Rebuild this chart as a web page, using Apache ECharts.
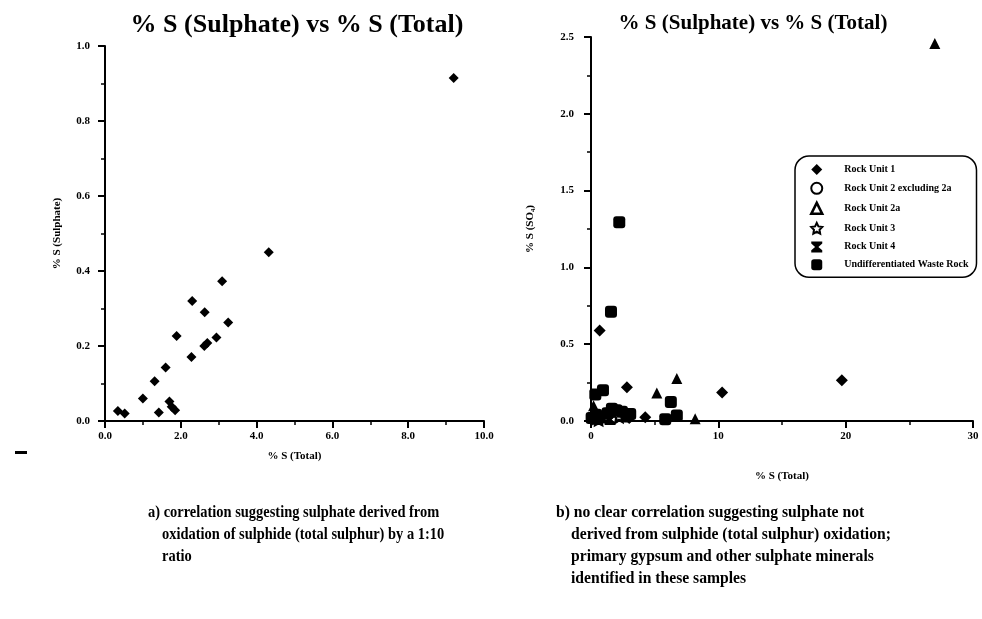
<!DOCTYPE html>
<html>
<head>
<meta charset="utf-8">
<script src="https://cdn.jsdelivr.net/npm/echarts@6/dist/echarts.min.js"></script>
<style>html,body{margin:0;padding:0;background:#fff}#c{width:982px;height:619px}</style>
</head>
<body>
<div id="c"></div>
<script>
// ---- data (left panel a) ----
var titleText = '% S (Sulphate) vs % S (Total)';
var leftXTicks = [0, 2, 4, 6, 8, 10];
var leftYTicks = [0, 0.2, 0.4, 0.6, 0.8, 1.0];
var leftPoints = [
  [9.2, 0.915], [4.32, 0.45], [3.09, 0.373], [2.30, 0.32], [2.63, 0.29],
  [3.25, 0.263], [1.89, 0.227], [2.94, 0.223], [2.62, 0.200], [2.70, 0.208],
  [2.28, 0.171], [1.60, 0.143], [1.31, 0.106], [1.00, 0.060], [0.34, 0.027],
  [0.52, 0.020], [1.42, 0.023], [1.70, 0.052], [1.76, 0.038], [1.85, 0.029]
];
// ---- data (right panel b) ----
var rightXTicks = [0, 10, 20, 30];
var rightYTicks = [0, 0.5, 1.0, 1.5, 2.0, 2.5];
var rockUnit1 = [
  [0.68, 0.59], [2.82, 0.22], [10.3, 0.185], [19.7, 0.265], [4.26, 0.025],
  [2.6, 0.04], [0.5, 0.03], [1.2, 0.05], [3.0, 0.02], [0.15, 0.01]
];
var rockUnit2 = [[0.3, 0.02], [1.0, 0.03], [1.8, 0.02]];
var rockUnit2a = [[27.0, 2.457], [6.74, 0.277], [5.17, 0.183], [8.18, 0.015], [0.2, 0.1], [0.1, 0.05]];
var rockUnit3 = [[0.6, 0.01], [2.2, 0.03]];
var rockUnit4 = [[0.9, 0.02], [1.5, 0.01]];
var wasteRock = [
  [2.22, 1.294], [1.57, 0.711], [0.34, 0.172], [0.94, 0.2], [6.27, 0.124],
  [1.64, 0.08], [2.0, 0.07], [2.43, 0.06], [3.08, 0.045], [5.83, 0.012],
  [6.74, 0.035], [0.4, 0.04], [1.3, 0.05], [2.8, 0.03], [0.05, 0.02]
];
var seriesNames = ['Rock Unit 1', 'Rock Unit 2 excluding 2a', 'Rock Unit 2a', 'Rock Unit 3', 'Rock Unit 4', 'Undifferentiated Waste Rock'];
var captionA = ['a) correlation suggesting sulphate derived from', 'oxidation of sulphide (total sulphur) by a 1:10', 'ratio'];
var captionB = ['b) no clear correlation suggesting sulphate not', 'derived from sulphide (total sulphur) oxidation;', 'primary gypsum and other sulphate minerals', 'identified in these samples'];

var SERIF = '"Liberation Serif", "Times New Roman", serif';
var chart = echarts.init(document.getElementById('c'));

function axisCommon(extra) {
  var base = {
    axisLine: { show: true, onZero: false, lineStyle: { color: '#000', width: 2 } },
    axisTick: { show: true, inside: false, length: 7, lineStyle: { color: '#000', width: 2 } },
    minorTick: { show: true, splitNumber: 2, length: 4, lineStyle: { color: '#000', width: 1.5 } },
    splitLine: { show: false },
    nameTextStyle: { color: '#000', fontFamily: SERIF, fontWeight: 'bold', fontSize: 11 }
  };
  for (var k in extra) base[k] = extra[k];
  return base;
}
function lbl(margin, fixed) {
  var o = { color: '#000', fontFamily: SERIF, fontWeight: 'bold', fontSize: 11, margin: margin };
  if (fixed) o.formatter = function (v) { return v.toFixed(1); };
  return o;
}

var starPath = 'path://M0,-10 L2.9,-4 L9.5,-3 L4.8,1.8 L5.9,8.5 L0,5.3 L-5.9,8.5 L-4.8,1.8 L-9.5,-3 L-2.9,-4 Z';
var bowPath = 'path://M0,0 L10,0 L10,2 L6.5,5 L10,8 L10,10 L0,10 L0,8 L3.5,5 L0,2 Z';

var graphics = [
  { type: 'rect', x: 15, y: 451, shape: { width: 12, height: 3 }, style: { fill: '#000' } }
];
var capFont = 'bold 17px ' + SERIF;
captionA.forEach(function (t, i) {
  graphics.push({ type: 'text', x: i === 0 ? 148 : 162, y: 504 + i * 22, scaleX: 0.85,
    style: { text: t, font: capFont, fill: '#000' } });
});
captionB.forEach(function (t, i) {
  graphics.push({ type: 'text', x: i === 0 ? 556 : 571, y: 504 + i * 22, scaleX: 0.92,
    style: { text: t, font: capFont, fill: '#000' } });
});

var openStyle = { color: '#fff', borderColor: '#000', borderWidth: 2.5 };

var option = {
  animation: false,
  backgroundColor: '#fff',
  title: [
    { text: titleText, left: 292, top: 7, textAlign: 'center',
      textStyle: { fontFamily: SERIF, fontWeight: 'bold', fontSize: 26, color: '#000' } },
    { text: titleText, left: 748, top: 8, textAlign: 'center',
      textStyle: { fontFamily: SERIF, fontWeight: 'bold', fontSize: 21, color: '#000' } }
  ],
  grid: [
    { left: 105, top: 46, width: 379, height: 375 },
    { left: 591, top: 37, width: 382, height: 384 }
  ],
  xAxis: [
    axisCommon({ gridIndex: 0, type: 'value', min: leftXTicks[0], max: leftXTicks[leftXTicks.length - 1], interval: leftXTicks[1] - leftXTicks[0],
      name: '% S (Total)', nameLocation: 'middle', nameGap: 30, axisLabel: lbl(10, true) }),
    axisCommon({ gridIndex: 1, type: 'value', min: rightXTicks[0], max: rightXTicks[rightXTicks.length - 1], interval: rightXTicks[1] - rightXTicks[0],
      name: '% S (Total)', nameLocation: 'middle', nameGap: 50, axisLabel: lbl(10, false) })
  ],
  yAxis: [
    axisCommon({ gridIndex: 0, type: 'value', min: leftYTicks[0], max: leftYTicks[leftYTicks.length - 1], interval: leftYTicks[1] - leftYTicks[0],
      name: '% S (Sulphate)', nameLocation: 'middle', nameGap: 42, nameRotate: 90, axisLabel: lbl(15, true) }),
    axisCommon({ gridIndex: 1, type: 'value', min: rightYTicks[0], max: rightYTicks[rightYTicks.length - 1], interval: rightYTicks[1] - rightYTicks[0],
      name: '% S (SO\u2084)', nameLocation: 'middle', nameGap: 55, nameRotate: 90, axisLabel: lbl(17, true) })
  ],
  legend: {
    data: [
      { name: seriesNames[0] },
      { name: seriesNames[1] },
      { name: seriesNames[2], itemStyle: openStyle },
      { name: seriesNames[3] },
      { name: seriesNames[4] },
      { name: seriesNames[5] }
    ],
    orient: 'vertical',
    left: 795, top: 156,
    itemWidth: 11, itemHeight: 11, itemGap: 6.8,
    padding: [8, 8, 7, 15],
    borderColor: '#000', borderWidth: 1.5, borderRadius: 14,
    backgroundColor: '#fff',
    textStyle: { color: '#000', fontFamily: SERIF, fontWeight: 'bold', fontSize: 10, padding: [0, 0, 0, 17] }
  },
  series: [
    { type: 'scatter', xAxisIndex: 0, yAxisIndex: 0, data: leftPoints, symbol: 'diamond', symbolSize: 10,
      itemStyle: { color: '#000', opacity: 1 } },
    { name: seriesNames[1], type: 'scatter', xAxisIndex: 1, yAxisIndex: 1, data: rockUnit2, symbol: 'circle', symbolSize: 10, z: 1,
      itemStyle: { color: '#fff', borderColor: '#000', borderWidth: 2.5, opacity: 1 } },
    { name: seriesNames[3], type: 'scatter', xAxisIndex: 1, yAxisIndex: 1, data: rockUnit3, symbol: starPath, symbolSize: 11, z: 1,
      itemStyle: { color: '#fff', borderColor: '#000', borderWidth: 2.5, opacity: 1 } },
    { name: seriesNames[4], type: 'scatter', xAxisIndex: 1, yAxisIndex: 1, data: rockUnit4, symbol: bowPath, symbolSize: 11, z: 1,
      itemStyle: { color: '#000', opacity: 1 } },
    { name: seriesNames[0], type: 'scatter', xAxisIndex: 1, yAxisIndex: 1, data: rockUnit1, symbol: 'diamond', symbolSize: 12, z: 3,
      itemStyle: { color: '#000', opacity: 1 } },
    { name: seriesNames[2], type: 'scatter', xAxisIndex: 1, yAxisIndex: 1, data: rockUnit2a, symbol: 'triangle', symbolSize: 11, z: 3,
      itemStyle: { color: '#000', opacity: 1 } },
    { name: seriesNames[5], type: 'scatter', xAxisIndex: 1, yAxisIndex: 1, data: wasteRock, symbol: 'roundRect', symbolSize: 12, z: 3,
      itemStyle: { color: '#000', opacity: 1 } }
  ],
  graphic: graphics
};
chart.setOption(option);
</script>
</body>
</html>
